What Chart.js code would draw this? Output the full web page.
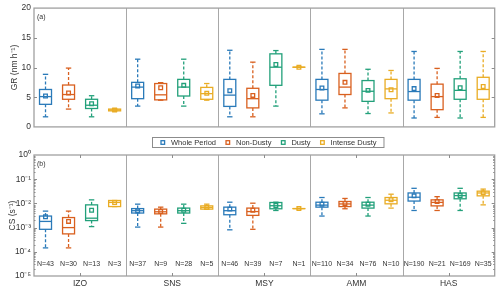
<!DOCTYPE html>
<html>
<head>
<meta charset="utf-8">
<script src="https://cdn.jsdelivr.net/npm/chart.js@4.4.0/dist/chart.umd.min.js"></script>
<style>
html, body { margin: 0; padding: 0; background: #fff; }
#wrap { position: relative; width: 500px; height: 290px; }
canvas { display: block; }
</style>
</head>
<body>
<div id="wrap">
  <canvas id="gr" width="500" height="135"></canvas>
  <canvas id="cs" width="500" height="155"></canvas>
</div>
<script>
// sites and periods (each site holds one box per period)
var sites = ['IZO', 'SNS', 'MSY', 'AMM', 'HAS'];
var periods = ['Whole Period', 'Non-Dusty', 'Dusty', 'Intense Dusty'];
var colors = ['#2a7ab9', '#d9601f', '#22a07a', '#e9ac24'];

// GR (nm h-1), rows = periods, columns = sites
var grLow    = [[1.7, 3.5, 1.7, 2.2, 1.5], [3.0, 4.5, 1.7, 3.2, 1.6], [1.7, 3.5, 3.5, 2.25, 1.5], [2.65, 4.5, 10.05, 2.35, 1.6]];
var grQ1     = [[3.8, 4.75, 3.45, 4.5, 4.5], [4.65, 4.55, 3.2, 5.45, 2.9], [3.1, 5.2, 7.0, 4.3, 4.65], [2.7, 4.65, 10.05, 4.75, 4.65]];
var grMedian = [[5.1, 6.7, 5.35, 6.3, 5.95], [5.45, 5.4, 4.75, 6.7, 5.1], [3.65, 6.7, 10.05, 6.0, 6.15], [2.85, 5.6, 10.05, 6.4, 6.3]];
var grQ3     = [[6.3, 7.5, 8.0, 8.0, 8.0], [7.05, 7.3, 6.5, 9.0, 7.2], [4.65, 8.0, 12.3, 7.8, 8.1], [3.0, 6.65, 10.05, 8.0, 8.35]];
var grHigh   = [[8.85, 11.4, 12.9, 13.05, 12.7], [9.9, 7.45, 10.9, 13.05, 9.85], [5.25, 11.4, 12.85, 9.7, 12.7], [3.05, 7.3, 10.05, 9.5, 12.7]];
var grMean   = [[5.2, 6.9, 6.1, 6.55, 6.45], [5.7, 6.6, 5.3, 7.5, 5.3], [3.9, 7.0, 10.5, 6.15, 6.6], [2.85, 5.65, 10.05, 6.25, 6.8]];

// CS (s-1)
var csLow    = [[1.45e-4, 1.05e-3, 8.1e-4, 3.0e-3, 5.1e-3], [1.45e-4, 1.05e-3, 8.5e-4, 6.0e-3, 5.1e-3], [1.1e-3, 1.5e-3, 5.1e-3, 3.0e-3, 5.1e-3], [7.4e-3, 5.8e-3, 6.1e-3, 6.4e-3, 8.7e-3]];
var csQ1     = [[8.5e-4, 4.0e-3, 3.4e-3, 7.0e-3, 1.25e-2], [5.5e-4, 3.7e-3, 3.2e-3, 7.4e-3, 7.9e-3], [1.95e-3, 4.0e-3, 6.0e-3, 6.4e-3, 1.55e-2], [7.4e-3, 5.8e-3, 6.1e-3, 9.6e-3, 2.05e-2]];
var csMedian = [[1.8e-3, 5.0e-3, 5.0e-3, 8.5e-3, 1.8e-2], [1.0e-3, 4.5e-3, 4.6e-3, 9.5e-3, 1.1e-2], [2.45e-3, 5.0e-3, 8.0e-3, 8.5e-3, 2.1e-2], [1.1e-2, 6.8e-3, 6.1e-3, 1.35e-2, 2.7e-2]];
var csQ3     = [[3.0e-3, 6.1e-3, 7.0e-3, 1.12e-2, 2.7e-2], [2.6e-3, 5.8e-3, 6.4e-3, 1.2e-2, 1.4e-2], [8.7e-3, 6.4e-3, 1.09e-2, 1.12e-2, 2.7e-2], [1.32e-2, 7.9e-3, 6.1e-3, 1.75e-2, 3.2e-2]];
var csHigh   = [[4.8e-3, 9.3e-3, 1.12e-2, 1.75e-2, 4.2e-2], [4.8e-3, 7.0e-3, 1.02e-2, 1.6e-2, 1.9e-2], [1.4e-2, 9.3e-3, 1.12e-2, 1.75e-2, 4.2e-2], [1.32e-2, 9.3e-3, 6.1e-3, 2.4e-2, 3.9e-2]];
var csMean   = [[2.8e-3, 4.9e-3, 5.8e-3, 9.3e-3, 2.05e-2], [1.8e-3, 4.6e-3, 5.2e-3, 1.0e-2, 1.2e-2], [5.2e-3, 5.2e-3, 8.2e-3, 9.3e-3, 2.13e-2], [1.09e-2, 6.8e-3, 6.1e-3, 1.41e-2, 2.75e-2]];

// sample counts
var counts = [[43, 37, 46, 110, 190], [30, 9, 39, 34, 21], [13, 28, 7, 76, 169], [3, 5, 1, 10, 35]];

// tick labels
var grTicks = [0, 5, 10, 15, 20];
var csExponents = [-5, -4, -3, -2, -1, 0];

var FONT = "'Liberation Sans', Arial, sans-serif";
var TEXT = '#333333';
var FRAME = '#a0a0a0';
Chart.defaults.font.family = FONT;

function xOf(p, s) { return s * 4 + p + 1; }

function sup(n) {
    var map = {'-': '\u207B', '0': '\u2070', '1': '\u00B9', '2': '\u00B2', '3': '\u00B3', '4': '\u2074', '5': '\u2075'};
    return String(n).split('').map(function(c) { return map[c]; }).join('');
}

function meanSets(means) {
    return periods.map(function(name, p) {
        return {
            label: name,
            data: means[p].map(function(v, s) { return {x: xOf(p, s), y: v}; }),
            pointStyle: 'rect',
            pointRadius: 2.6,
            borderWidth: 1.3,
            borderColor: colors[p],
            backgroundColor: 'rgba(255,255,255,0)',
            showLine: false
        };
    });
}

function line(ctx, x1, y1, x2, y2) {
    ctx.beginPath(); ctx.moveTo(x1, y1); ctx.lineTo(x2, y2); ctx.stroke();
}

// boxes, whiskers, separators
function boxPlugin(stats) {
    return {
        id: 'boxes',
        beforeDatasetsDraw: function(chart) {
            var ctx = chart.ctx, xs = chart.scales.x, ys = chart.scales.y, a = chart.chartArea;
            ctx.save();
            ctx.strokeStyle = '#a8a8a8';
            ctx.lineWidth = 1;
            for (var s = 1; s < sites.length; s++) {
                var px = Math.round(xs.getPixelForValue(s * 4 + 0.5)) + 0.5;
                line(ctx, px, a.top, px, a.bottom);
            }
            periods.forEach(function(name, p) {
                sites.forEach(function(site, s) {
                    var xv = xOf(p, s);
                    var xc = xs.getPixelForValue(xv);
                    var hw = xs.getPixelForValue(xv + 0.26) - xc;
                    var cw = hw * 0.45;
                    var yLo = ys.getPixelForValue(stats.low[p][s]);
                    var y1 = ys.getPixelForValue(stats.q1[p][s]);
                    var yM = ys.getPixelForValue(stats.median[p][s]);
                    var y3 = ys.getPixelForValue(stats.q3[p][s]);
                    var yHi = ys.getPixelForValue(stats.high[p][s]);
                    ctx.strokeStyle = colors[p];
                    ctx.lineWidth = 1.3;
                    ctx.setLineDash([3, 2]);
                    if (yHi < y3) line(ctx, xc, y3, xc, yHi);
                    if (yLo > y1) line(ctx, xc, y1, xc, yLo);
                    ctx.setLineDash([]);
                    line(ctx, xc - cw, yHi, xc + cw, yHi);
                    line(ctx, xc - cw, yLo, xc + cw, yLo);
                    ctx.strokeRect(xc - hw, y3, 2 * hw, Math.max(y1 - y3, 0.01));
                    line(ctx, xc - hw, yM, xc + hw, yM);
                });
            });
            ctx.restore();
        }
    };
}

function frame(ctx, a) {
    ctx.strokeStyle = FRAME;
    ctx.lineWidth = 1.3;
    ctx.strokeRect(a.left, a.top, a.right - a.left, a.bottom - a.top);
}

// frame, inward ticks, panel label
var grDecor = {
    id: 'grDecor',
    afterDraw: function(chart) {
        var ctx = chart.ctx, ys = chart.scales.y, a = chart.chartArea;
        ctx.save();
        frame(ctx, a);
        ctx.strokeStyle = '#8c8c8c';
        ctx.lineWidth = 1;
        grTicks.slice(1, -1).forEach(function(v) {
            var py = Math.round(ys.getPixelForValue(v)) + 0.5;
            line(ctx, a.left, py, a.left + 3, py);
            line(ctx, a.right - 3, py, a.right, py);
        });
        ctx.fillStyle = TEXT;
        ctx.font = '7px ' + FONT;
        ctx.textBaseline = 'middle';
        ctx.fillText('(a)', a.left + 3, a.top + 9);
        ctx.restore();
    }
};

var csDecor = {
    id: 'csDecor',
    afterDraw: function(chart) {
        var ctx = chart.ctx, xs = chart.scales.x, ys = chart.scales.y, a = chart.chartArea;
        ctx.save();
        frame(ctx, a);
        ctx.strokeStyle = '#8c8c8c';
        ctx.lineWidth = 1;
        csExponents.forEach(function(e) {
            var py = Math.round(ys.getPixelForValue(Math.pow(10, e))) + 0.5;
            if (e > -5 && e < 0) {
                line(ctx, a.left, py, a.left + 3, py);
                line(ctx, a.right - 3, py, a.right, py);
            }
            if (e < 0) {
                for (var m = 2; m < 10; m++) {
                    var pm = Math.round(ys.getPixelForValue(m * Math.pow(10, e))) + 0.5;
                    line(ctx, a.left, pm, a.left + 1.5, pm);
                    line(ctx, a.right - 1.5, pm, a.right, pm);
                }
            }
        });
        sites.forEach(function(site, s) {
            var px = Math.round(xs.getPixelForValue(s * 4 + 2.5)) + 0.5;
            line(ctx, px, a.top, px, a.top + 3);
            line(ctx, px, a.bottom - 3, px, a.bottom);
        });
        ctx.fillStyle = TEXT;
        ctx.font = '7px ' + FONT;
        ctx.textBaseline = 'middle';
        ctx.textAlign = 'left';
        ctx.fillText('(b)', a.left + 3, a.top + 9);
        // sample counts under each box
        ctx.textAlign = 'center';
        ctx.font = '7px ' + FONT;
        var ny = ys.getPixelForValue(3e-5);
        periods.forEach(function(name, p) {
            sites.forEach(function(site, s) {
                ctx.fillText('N=' + counts[p][s], xs.getPixelForValue(xOf(p, s)), ny);
            });
        });
        // legend box between the panels
        ctx.font = '7.5px ' + FONT;
        ctx.textAlign = 'left';
        var lx = 152, ly = 2, lh = 10;
        var x = lx + 6;
        var items = periods.map(function(name) { return ctx.measureText(name).width; });
        var total = items.reduce(function(t, w) { return t + w + 20; }, 0) - 2;
        ctx.strokeStyle = '#8c8c8c';
        ctx.lineWidth = 1;
        ctx.strokeRect(lx + 0.5, ly + 0.5, total + 8, lh);
        periods.forEach(function(name, p) {
            ctx.strokeStyle = colors[p];
            ctx.lineWidth = 1.3;
            ctx.strokeRect(x + 3, ly + lh / 2 - 1.3, 3.6, 3.6);
            ctx.fillStyle = TEXT;
            ctx.fillText(name, x + 13, ly + lh / 2 + 1);
            x += items[p] + 20;
        });
        ctx.restore();
    }
};

var tickFont = {size: 8.5, family: FONT};

new Chart(document.getElementById('gr').getContext('2d'), {
    type: 'scatter',
    data: {datasets: meanSets(grMean)},
    options: {
        responsive: false,
        animation: false,
        layout: {padding: {top: 6, right: 4, bottom: 7, left: 0}},
        plugins: {legend: {display: false}, tooltip: {enabled: false}},
        scales: {
            x: {type: 'linear', min: 0.5, max: 20.5, display: false},
            y: {
                min: 0, max: 20,
                afterFit: function(s) { s.width = 34; },
                afterBuildTicks: function(s) { s.ticks = grTicks.map(function(v) { return {value: v}; }); },
                ticks: {padding: 3, font: tickFont, color: TEXT},
                grid: {display: false, drawTicks: false},
                border: {display: false},
                title: {display: true, text: 'GR (nm h\u207B\u00B9)', font: {size: 8.5, family: FONT}, color: TEXT, padding: {top: 10, bottom: 0}}
            }
        }
    },
    plugins: [boxPlugin({low: grLow, q1: grQ1, median: grMedian, q3: grQ3, high: grHigh}), grDecor]
});

new Chart(document.getElementById('cs').getContext('2d'), {
    type: 'scatter',
    data: {datasets: meanSets(csMean)},
    options: {
        responsive: false,
        animation: false,
        layout: {padding: {top: 20, right: 4, bottom: 0, left: 0}},
        plugins: {legend: {display: false}, tooltip: {enabled: false}},
        scales: {
            x: {
                type: 'linear', min: 0.5, max: 20.5,
                afterFit: function(s) { s.height = 14; },
                afterBuildTicks: function(s) { s.ticks = sites.map(function(n, i) { return {value: i * 4 + 2.5}; }); },
                ticks: {
                    autoSkip: false, maxRotation: 0, padding: 3, font: tickFont, color: TEXT,
                    callback: function(v) { return sites[Math.round((v - 2.5) / 4)]; }
                },
                grid: {display: false, drawTicks: false},
                border: {display: false}
            },
            y: {
                type: 'logarithmic', min: 1e-5, max: 1,
                afterFit: function(s) { s.width = 34; },
                afterBuildTicks: function(s) { s.ticks = csExponents.map(function(e) { return {value: Math.pow(10, e)}; }); },
                ticks: {
                    padding: 3, font: tickFont, color: TEXT,
                    callback: function(v) { return '10' + sup(Math.round(Math.log10(v))); }
                },
                grid: {display: false, drawTicks: false},
                border: {display: false},
                title: {display: true, text: 'CS (s\u207B\u00B9)', font: {size: 8.5, family: FONT}, color: TEXT, padding: {top: 8, bottom: 0}}
            }
        }
    },
    plugins: [boxPlugin({low: csLow, q1: csQ1, median: csMedian, q3: csQ3, high: csHigh}), csDecor]
});
</script>
</body>
</html>
